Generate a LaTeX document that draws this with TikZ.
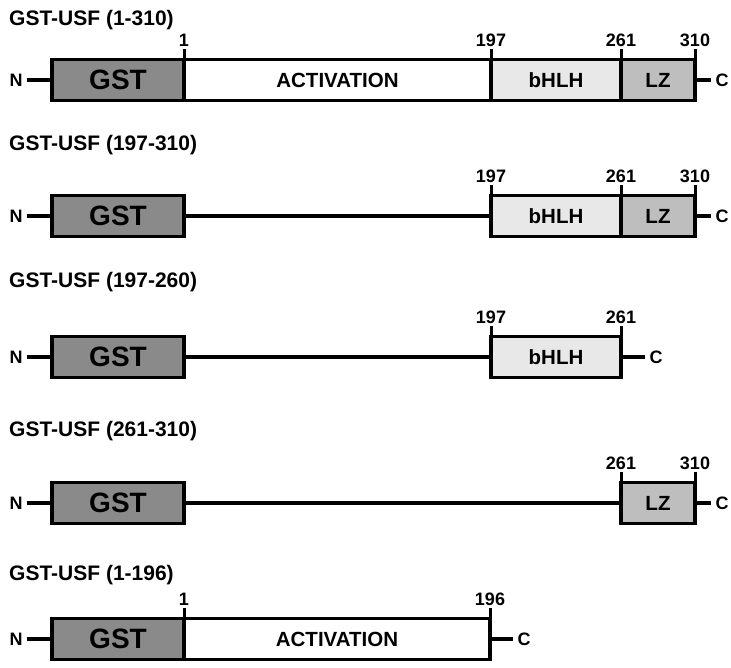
\documentclass[tikz,border=0pt]{standalone}
\usepackage{fontspec}
\setmainfont{Liberation Sans}
\usetikzlibrary{positioning}
\definecolor{gstgray}{RGB}{138,138,138}
\definecolor{bhlhgray}{RGB}{232,232,232}
\definecolor{lzgray}{RGB}{190,190,190}
\newcommand{\boxH}{41}
\newcommand{\tickUp}{31.5}
\tikzset{
  dom/.style     ={draw=black,line width=3.6pt,inner sep=0pt,outer sep=0pt,anchor=west,
                   minimum height=\boxH pt,font=\bfseries\fontsize{20.5}{22}\selectfont},
  gstdom/.style  ={dom,fill=gstgray,minimum width=132pt,font=\bfseries\fontsize{28}{30}\selectfont},
  actdom/.style  ={dom,fill=white},
  bhlhdom/.style ={dom,fill=bhlhgray},
  lzdom/.style   ={dom,fill=lzgray},
  bbline/.style  ={line width=3.2pt},
  tickln/.style  ={line width=3pt},
  numlab/.style  ={anchor=south,inner sep=2pt,font=\bfseries\fontsize{18}{20}\selectfont},
  termlab/.style ={inner xsep=4pt,inner ysep=0pt,font=\bfseries\fontsize{18}{20}\selectfont},
  titlelab/.style={anchor=west,inner sep=0pt,font=\bfseries\fontsize{21}{23}\selectfont},
}
% N terminus + GST tag of one construct
\newcommand{\nterm}[2]{%
  \node[termlab] (N#1) at (16,#2) {N};
  \node[gstdom] (gst#1) at (52,#2) {GST};
  \draw[bbline] (N#1.east) -- (gst#1.west);
}
% residue number with its tick
\newcommand{\resno}[5]{%
  \pgfmathsetmacro{\ytk}{#3-\tickUp}%
  \node[numlab] (#1) at (#2,\ytk) {#4};
  \draw[tickln] (#1.south) -- (#1.south |- #5);
}

\begin{document}
\begin{tikzpicture}[x=1pt,y=-1pt]
  \useasboundingbox (0,0) rectangle (731,667);
  % 1-310
  \node[titlelab] (t1) at (9,20) {GST-USF (1-310)};
  \nterm{1}{80}
  \node[actdom,minimum width=307pt] (act1) at (184,80) {ACTIVATION};
  \node[bhlhdom,minimum width=130pt] (bhlh1) at (491,80) {bHLH};
  \node[lzdom,minimum width=74pt] (lz1) at (621,80) {LZ};
  \node[termlab] (C1) at (722,80) {C};
  \draw[bbline] (lz1.east) -- (C1.west);
  \resno{r1a}{184}{80}{1}{act1.north}
  \resno{r1b}{491}{80}{197}{bhlh1.north}
  \resno{r1c}{621}{80}{261}{lz1.north}
  \resno{r1d}{695}{80}{310}{lz1.north}
  % 197-310
  \node[titlelab] (t2) at (9,145) {GST-USF (197-310)};
  \nterm{2}{216}
  \node[bhlhdom,minimum width=130pt] (bhlh2) at (491,216) {bHLH};
  \node[lzdom,minimum width=74pt] (lz2) at (621,216) {LZ};
  \node[termlab] (C2) at (722,216) {C};
  \draw[bbline] (gst2.east) -- (bhlh2.west);
  \draw[bbline] (lz2.east) -- (C2.west);
  \resno{r2b}{491}{216}{197}{bhlh2.north}
  \resno{r2c}{621}{216}{261}{lz2.north}
  \resno{r2d}{695}{216}{310}{lz2.north}
  % 197-260
  \node[titlelab] (t3) at (9,282) {GST-USF (197-260)};
  \nterm{3}{357}
  \node[bhlhdom,minimum width=130pt] (bhlh3) at (491,357) {bHLH};
  \node[termlab] (C3) at (656,357) {C};
  \draw[bbline] (gst3.east) -- (bhlh3.west);
  \draw[bbline] (bhlh3.east) -- (C3.west);
  \resno{r3b}{491}{357}{197}{bhlh3.north}
  \resno{r3c}{621}{357}{261}{bhlh3.north}
  % 261-310
  \node[titlelab] (t4) at (9,431) {GST-USF (261-310)};
  \nterm{4}{503}
  \node[lzdom,minimum width=74pt] (lz4) at (621,503) {LZ};
  \node[termlab] (C4) at (722,503) {C};
  \draw[bbline] (gst4.east) -- (lz4.west);
  \draw[bbline] (lz4.east) -- (C4.west);
  \resno{r4c}{621}{503}{261}{lz4.north}
  \resno{r4d}{695}{503}{310}{lz4.north}
  % 1-196
  \node[titlelab] (t5) at (9,575) {GST-USF (1-196)};
  \nterm{5}{639}
  \node[actdom,minimum width=306pt] (act5) at (184,639) {ACTIVATION};
  \node[termlab] (C5) at (524,639) {C};
  \draw[bbline] (act5.east) -- (C5.west);
  \resno{r5a}{184}{639}{1}{act5.north}
  \resno{r5b}{490}{639}{196}{act5.north}
\end{tikzpicture}
\end{document}
